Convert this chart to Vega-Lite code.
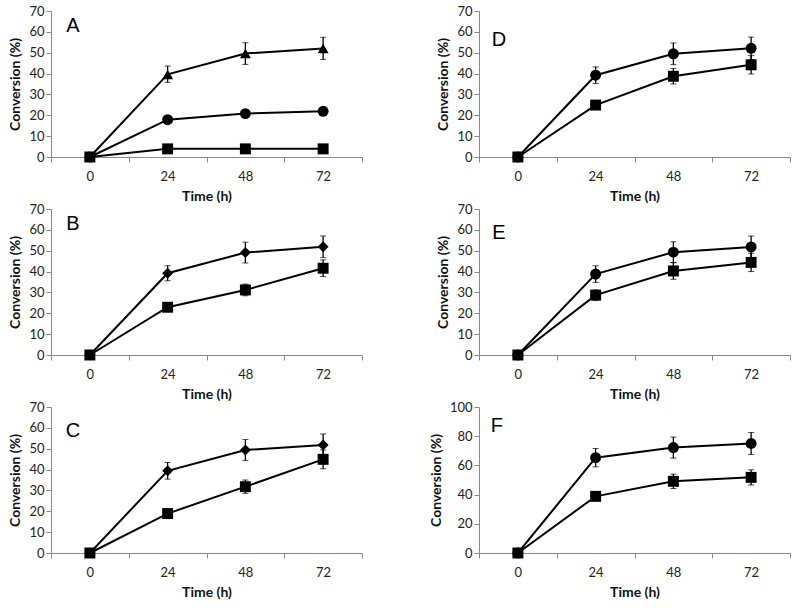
{
  "$schema": "https://vega.github.io/schema/vega-lite/v6.json",
  "padding": {"left": 8, "top": 5, "right": 5, "bottom": 5},
  "background": "white",
  "config": {
    "view": {"stroke": null},
    "font": "Lato",
    "axis": {
      "domainColor": "#888888",
      "tickColor": "#888888",
      "tickSize": 5,
      "labelColor": "#222222",
      "labelFont": "Lato",
      "labelFontSize": 13,
      "titleFont": "Lato",
      "titleFontSize": 14,
      "titleFontWeight": "bold",
      "titleColor": "#111111",
      "grid": false
    }
  },
  "data": {
    "values": [
      {"panel": "A", "series": "triangle", "time": "0", "value": 0},
      {"panel": "A", "series": "triangle", "time": "24", "value": 39.6, "lo": 35.8, "hi": 43.6},
      {"panel": "A", "series": "triangle", "time": "48", "value": 49.6, "lo": 44.4, "hi": 54.8},
      {"panel": "A", "series": "triangle", "time": "72", "value": 52, "lo": 46.8, "hi": 57.4},
      {"panel": "A", "series": "circle", "time": "0", "value": 0},
      {"panel": "A", "series": "circle", "time": "24", "value": 17.9},
      {"panel": "A", "series": "circle", "time": "48", "value": 20.8},
      {"panel": "A", "series": "circle", "time": "72", "value": 21.9},
      {"panel": "A", "series": "square", "time": "0", "value": 0},
      {"panel": "A", "series": "square", "time": "24", "value": 3.9},
      {"panel": "A", "series": "square", "time": "48", "value": 3.9},
      {"panel": "A", "series": "square", "time": "72", "value": 3.9},

      {"panel": "B", "series": "diamond", "time": "0", "value": 0},
      {"panel": "B", "series": "diamond", "time": "24", "value": 39.2, "lo": 35.6, "hi": 42.8},
      {"panel": "B", "series": "diamond", "time": "48", "value": 49.1, "lo": 44.1, "hi": 54.1},
      {"panel": "B", "series": "diamond", "time": "72", "value": 51.9, "lo": 46.7, "hi": 57.1},
      {"panel": "B", "series": "square", "time": "0", "value": 0},
      {"panel": "B", "series": "square", "time": "24", "value": 22.9, "lo": 22.0, "hi": 23.8},
      {"panel": "B", "series": "square", "time": "48", "value": 31.2, "lo": 28.4, "hi": 34.0},
      {"panel": "B", "series": "square", "time": "72", "value": 41.6, "lo": 37.6, "hi": 45.6},

      {"panel": "C", "series": "diamond", "time": "0", "value": 0},
      {"panel": "C", "series": "diamond", "time": "24", "value": 39.4, "lo": 35.4, "hi": 43.4},
      {"panel": "C", "series": "diamond", "time": "48", "value": 49.4, "lo": 44.4, "hi": 54.4},
      {"panel": "C", "series": "diamond", "time": "72", "value": 51.8, "lo": 46.5, "hi": 57.1},
      {"panel": "C", "series": "square", "time": "0", "value": 0},
      {"panel": "C", "series": "square", "time": "24", "value": 18.9, "lo": 18.2, "hi": 19.6},
      {"panel": "C", "series": "square", "time": "48", "value": 31.8, "lo": 28.6, "hi": 35.0},
      {"panel": "C", "series": "square", "time": "72", "value": 44.9, "lo": 40.4, "hi": 49.4},

      {"panel": "D", "series": "circle", "time": "0", "value": 0},
      {"panel": "D", "series": "circle", "time": "24", "value": 39.2, "lo": 35.2, "hi": 43.2},
      {"panel": "D", "series": "circle", "time": "48", "value": 49.5, "lo": 44.3, "hi": 54.7},
      {"panel": "D", "series": "circle", "time": "72", "value": 52.1, "lo": 46.7, "hi": 57.5},
      {"panel": "D", "series": "square", "time": "0", "value": 0},
      {"panel": "D", "series": "square", "time": "24", "value": 24.9, "lo": 23.6, "hi": 26.2},
      {"panel": "D", "series": "square", "time": "48", "value": 38.7, "lo": 35.0, "hi": 42.4},
      {"panel": "D", "series": "square", "time": "72", "value": 44.2, "lo": 39.8, "hi": 48.6},

      {"panel": "E", "series": "circle", "time": "0", "value": 0},
      {"panel": "E", "series": "circle", "time": "24", "value": 38.8, "lo": 34.8, "hi": 42.8},
      {"panel": "E", "series": "circle", "time": "48", "value": 49.3, "lo": 44.3, "hi": 54.3},
      {"panel": "E", "series": "circle", "time": "72", "value": 51.8, "lo": 46.6, "hi": 57.0},
      {"panel": "E", "series": "square", "time": "0", "value": 0},
      {"panel": "E", "series": "square", "time": "24", "value": 28.7, "lo": 26.2, "hi": 31.2},
      {"panel": "E", "series": "square", "time": "48", "value": 40.3, "lo": 36.3, "hi": 44.3},
      {"panel": "E", "series": "square", "time": "72", "value": 44.4, "lo": 40.0, "hi": 48.8},

      {"panel": "F", "series": "circle", "time": "0", "value": 0},
      {"panel": "F", "series": "circle", "time": "24", "value": 65.3, "lo": 59.0, "hi": 71.6},
      {"panel": "F", "series": "circle", "time": "48", "value": 72.2, "lo": 65.0, "hi": 79.4},
      {"panel": "F", "series": "circle", "time": "72", "value": 75.0, "lo": 67.5, "hi": 82.5},
      {"panel": "F", "series": "square", "time": "0", "value": 0},
      {"panel": "F", "series": "square", "time": "24", "value": 38.8, "lo": 36.3, "hi": 41.3},
      {"panel": "F", "series": "square", "time": "48", "value": 49.1, "lo": 44.2, "hi": 54.0},
      {"panel": "F", "series": "square", "time": "72", "value": 51.8, "lo": 46.6, "hi": 57.0}
    ]
  },
  "columns": 2,
  "spacing": {"row": 0, "column": 66},
  "concat": [
    {
      "width": 311, "height": 146,
      "transform": [{"filter": "datum.panel == 'A'"}],
      "encoding": {
        "x": {"field": "time", "type": "ordinal", "sort": ["0", "24", "48", "72"], "scale": {"type": "band", "paddingInner": 0, "paddingOuter": 0}, "axis": {"title": "Time (h)", "labelAngle": 0, "tickBand": "extent", "labelPadding": 8, "titlePadding": 6}},
        "y": {"field": "value", "type": "quantitative", "scale": {"domain": [0, 70]}, "axis": {"title": "Conversion (%)", "values": [0, 10, 20, 30, 40, 50, 60, 70], "titlePadding": 6}}
      },
      "layer": [
        {"mark": {"type": "line", "color": "black", "strokeWidth": 2}, "encoding": {"detail": {"field": "series"}}},
        {"transform": [{"filter": "datum.lo != null"}], "mark": {"type": "errorbar", "ticks": {"size": 6, "color": "black", "strokeWidth": 1.3}, "rule": {"color": "black", "strokeWidth": 1.3}}, "encoding": {"y": {"field": "lo", "type": "quantitative"}, "y2": {"field": "hi"}}},
        {"mark": {"type": "point", "filled": true, "color": "black", "opacity": 1, "size": 120}, "encoding": {"shape": {"field": "series", "scale": {"domain": ["triangle", "circle", "square", "diamond"], "range": ["triangle-up", "circle", "square", "diamond"]}, "legend": null}}},
        {"transform": [{"filter": "datum.time == '0' && datum.series == 'square'"}], "mark": {"type": "text", "fontSize": 20, "font": "Liberation Sans", "color": "black", "dx": -17}, "encoding": {"x": {"datum": "0"}, "y": {"datum": 63}, "text": {"value": "A"}}}
      ]
    },
    {
      "width": 311, "height": 146,
      "transform": [{"filter": "datum.panel == 'D'"}],
      "encoding": {
        "x": {"field": "time", "type": "ordinal", "sort": ["0", "24", "48", "72"], "scale": {"type": "band", "paddingInner": 0, "paddingOuter": 0}, "axis": {"title": "Time (h)", "labelAngle": 0, "tickBand": "extent", "labelPadding": 8, "titlePadding": 6}},
        "y": {"field": "value", "type": "quantitative", "scale": {"domain": [0, 70]}, "axis": {"title": "Conversion (%)", "values": [0, 10, 20, 30, 40, 50, 60, 70], "titlePadding": 6}}
      },
      "layer": [
        {"mark": {"type": "line", "color": "black", "strokeWidth": 2}, "encoding": {"detail": {"field": "series"}}},
        {"transform": [{"filter": "datum.lo != null"}], "mark": {"type": "errorbar", "ticks": {"size": 6, "color": "black", "strokeWidth": 1.3}, "rule": {"color": "black", "strokeWidth": 1.3}}, "encoding": {"y": {"field": "lo", "type": "quantitative"}, "y2": {"field": "hi"}}},
        {"mark": {"type": "point", "filled": true, "color": "black", "opacity": 1, "size": 120}, "encoding": {"shape": {"field": "series", "scale": {"domain": ["triangle", "circle", "square", "diamond"], "range": ["triangle-up", "circle", "square", "diamond"]}, "legend": null}}},
        {"transform": [{"filter": "datum.time == '0' && datum.series == 'square'"}], "mark": {"type": "text", "fontSize": 20, "font": "Liberation Sans", "color": "black", "dx": -19}, "encoding": {"x": {"datum": "0"}, "y": {"datum": 56}, "text": {"value": "D"}}}
      ]
    },
    {
      "width": 311, "height": 146,
      "transform": [{"filter": "datum.panel == 'B'"}],
      "encoding": {
        "x": {"field": "time", "type": "ordinal", "sort": ["0", "24", "48", "72"], "scale": {"type": "band", "paddingInner": 0, "paddingOuter": 0}, "axis": {"title": "Time (h)", "labelAngle": 0, "tickBand": "extent", "labelPadding": 8, "titlePadding": 6}},
        "y": {"field": "value", "type": "quantitative", "scale": {"domain": [0, 70]}, "axis": {"title": "Conversion (%)", "values": [0, 10, 20, 30, 40, 50, 60, 70], "titlePadding": 6}}
      },
      "layer": [
        {"mark": {"type": "line", "color": "black", "strokeWidth": 2}, "encoding": {"detail": {"field": "series"}}},
        {"transform": [{"filter": "datum.lo != null"}], "mark": {"type": "errorbar", "ticks": {"size": 6, "color": "black", "strokeWidth": 1.3}, "rule": {"color": "black", "strokeWidth": 1.3}}, "encoding": {"y": {"field": "lo", "type": "quantitative"}, "y2": {"field": "hi"}}},
        {"mark": {"type": "point", "filled": true, "color": "black", "opacity": 1, "size": 120}, "encoding": {"shape": {"field": "series", "scale": {"domain": ["triangle", "circle", "square", "diamond"], "range": ["triangle-up", "circle", "square", "diamond"]}, "legend": null}}},
        {"transform": [{"filter": "datum.time == '0' && datum.series == 'square'"}], "mark": {"type": "text", "fontSize": 20, "font": "Liberation Sans", "color": "black", "dx": -17}, "encoding": {"x": {"datum": "0"}, "y": {"datum": 63}, "text": {"value": "B"}}}
      ]
    },
    {
      "width": 311, "height": 146,
      "transform": [{"filter": "datum.panel == 'E'"}],
      "encoding": {
        "x": {"field": "time", "type": "ordinal", "sort": ["0", "24", "48", "72"], "scale": {"type": "band", "paddingInner": 0, "paddingOuter": 0}, "axis": {"title": "Time (h)", "labelAngle": 0, "tickBand": "extent", "labelPadding": 8, "titlePadding": 6}},
        "y": {"field": "value", "type": "quantitative", "scale": {"domain": [0, 70]}, "axis": {"title": "Conversion (%)", "values": [0, 10, 20, 30, 40, 50, 60, 70], "titlePadding": 6}}
      },
      "layer": [
        {"mark": {"type": "line", "color": "black", "strokeWidth": 2}, "encoding": {"detail": {"field": "series"}}},
        {"transform": [{"filter": "datum.lo != null"}], "mark": {"type": "errorbar", "ticks": {"size": 6, "color": "black", "strokeWidth": 1.3}, "rule": {"color": "black", "strokeWidth": 1.3}}, "encoding": {"y": {"field": "lo", "type": "quantitative"}, "y2": {"field": "hi"}}},
        {"mark": {"type": "point", "filled": true, "color": "black", "opacity": 1, "size": 120}, "encoding": {"shape": {"field": "series", "scale": {"domain": ["triangle", "circle", "square", "diamond"], "range": ["triangle-up", "circle", "square", "diamond"]}, "legend": null}}},
        {"transform": [{"filter": "datum.time == '0' && datum.series == 'square'"}], "mark": {"type": "text", "fontSize": 20, "font": "Liberation Sans", "color": "black", "dx": -19}, "encoding": {"x": {"datum": "0"}, "y": {"datum": 58.5}, "text": {"value": "E"}}}
      ]
    },
    {
      "width": 311, "height": 146,
      "transform": [{"filter": "datum.panel == 'C'"}],
      "encoding": {
        "x": {"field": "time", "type": "ordinal", "sort": ["0", "24", "48", "72"], "scale": {"type": "band", "paddingInner": 0, "paddingOuter": 0}, "axis": {"title": "Time (h)", "labelAngle": 0, "tickBand": "extent", "labelPadding": 8, "titlePadding": 6}},
        "y": {"field": "value", "type": "quantitative", "scale": {"domain": [0, 70]}, "axis": {"title": "Conversion (%)", "values": [0, 10, 20, 30, 40, 50, 60, 70], "titlePadding": 6}}
      },
      "layer": [
        {"mark": {"type": "line", "color": "black", "strokeWidth": 2}, "encoding": {"detail": {"field": "series"}}},
        {"transform": [{"filter": "datum.lo != null"}], "mark": {"type": "errorbar", "ticks": {"size": 6, "color": "black", "strokeWidth": 1.3}, "rule": {"color": "black", "strokeWidth": 1.3}}, "encoding": {"y": {"field": "lo", "type": "quantitative"}, "y2": {"field": "hi"}}},
        {"mark": {"type": "point", "filled": true, "color": "black", "opacity": 1, "size": 120}, "encoding": {"shape": {"field": "series", "scale": {"domain": ["triangle", "circle", "square", "diamond"], "range": ["triangle-up", "circle", "square", "diamond"]}, "legend": null}}},
        {"transform": [{"filter": "datum.time == '0' && datum.series == 'square'"}], "mark": {"type": "text", "fontSize": 20, "font": "Liberation Sans", "color": "black", "dx": -17}, "encoding": {"x": {"datum": "0"}, "y": {"datum": 58.5}, "text": {"value": "C"}}}
      ]
    },
    {
      "width": 311, "height": 146,
      "transform": [{"filter": "datum.panel == 'F'"}],
      "encoding": {
        "x": {"field": "time", "type": "ordinal", "sort": ["0", "24", "48", "72"], "scale": {"type": "band", "paddingInner": 0, "paddingOuter": 0}, "axis": {"title": "Time (h)", "labelAngle": 0, "tickBand": "extent", "labelPadding": 8, "titlePadding": 6}},
        "y": {"field": "value", "type": "quantitative", "scale": {"domain": [0, 100]}, "axis": {"title": "Conversion (%)", "values": [0, 20, 40, 60, 80, 100], "titlePadding": 6}}
      },
      "layer": [
        {"mark": {"type": "line", "color": "black", "strokeWidth": 2}, "encoding": {"detail": {"field": "series"}}},
        {"transform": [{"filter": "datum.lo != null"}], "mark": {"type": "errorbar", "ticks": {"size": 6, "color": "black", "strokeWidth": 1.3}, "rule": {"color": "black", "strokeWidth": 1.3}}, "encoding": {"y": {"field": "lo", "type": "quantitative"}, "y2": {"field": "hi"}}},
        {"mark": {"type": "point", "filled": true, "color": "black", "opacity": 1, "size": 120}, "encoding": {"shape": {"field": "series", "scale": {"domain": ["triangle", "circle", "square", "diamond"], "range": ["triangle-up", "circle", "square", "diamond"]}, "legend": null}}},
        {"transform": [{"filter": "datum.time == '0' && datum.series == 'square'"}], "mark": {"type": "text", "fontSize": 20, "font": "Liberation Sans", "color": "black", "dx": -21}, "encoding": {"x": {"datum": "0"}, "y": {"datum": 87}, "text": {"value": "F"}}}
      ]
    }
  ]
}
